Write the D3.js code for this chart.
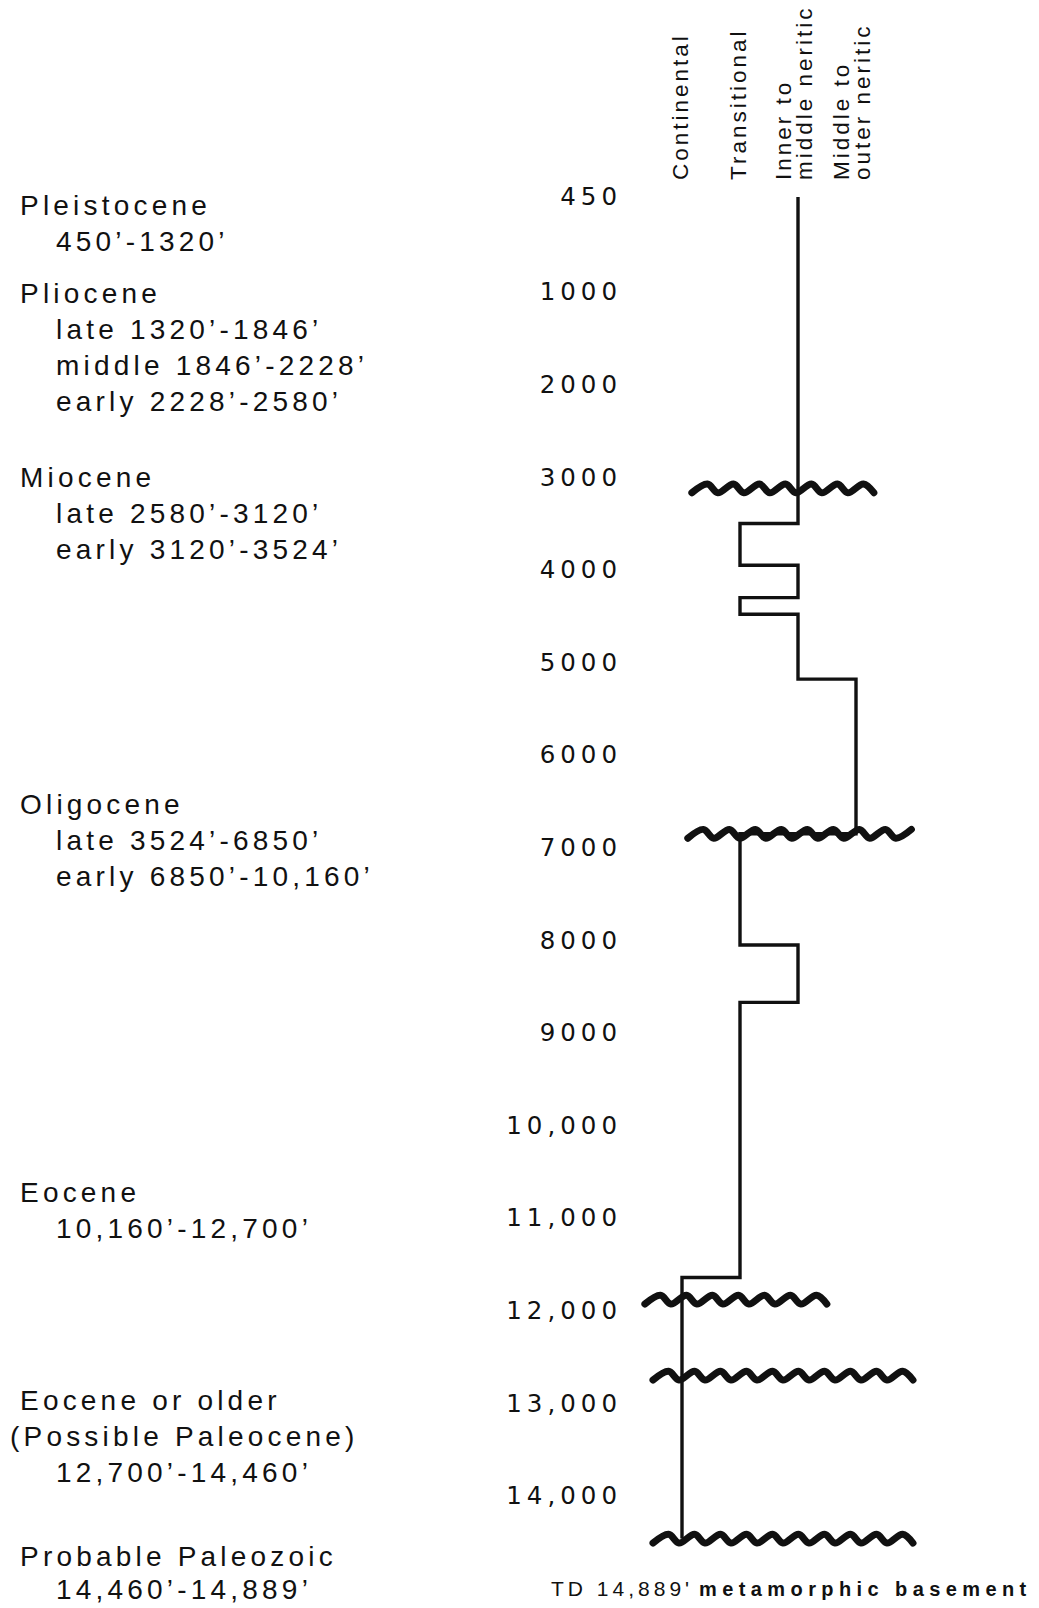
<!DOCTYPE html>
<html>
<head>
<meta charset="utf-8">
<script src="https://cdn.jsdelivr.net/npm/d3@7"></script>
<style>
  html, body { margin: 0; padding: 0; background: #fff; }
  svg { display: block; }
</style>
</head>
<body>
<svg id="chart" width="1039" height="1608"></svg>
<script>
// ---- Data -------------------------------------------------------------

// Depositional environments, shallow (left) to deep (right)
const environments = ["Continental", "Transitional", "Inner to middle neritic", "Middle to outer neritic"];
const environmentLabelLines = [
  ["Continental"],
  ["Transitional"],
  ["Inner to", "middle neritic"],
  ["Middle to", "outer neritic"]
];

// Depth axis (feet)
const depthTicks = [450, 1000, 2000, 3000, 4000, 5000, 6000, 7000, 8000, 9000, 10000, 11000, 12000, 13000, 14000];
const depthTickLabels = ["450", "1000", "2000", "3000", "4000", "5000", "6000", "7000", "8000", "9000",
  "10,000", "11,000", "12,000", "13,000", "14,000"];

// Environment interpreted for each depth interval (ft)
const intervalTops  = [450, 3500, 3950, 4300, 4480, 5180, 6850, 8050, 8670, 11640];
const intervalBases = [3500, 3950, 4300, 4480, 5180, 6850, 8050, 8670, 11640, 14460];
const intervalEnvironment = [
  "Inner to middle neritic", "Transitional", "Inner to middle neritic", "Transitional",
  "Inner to middle neritic", "Middle to outer neritic", "Transitional", "Inner to middle neritic",
  "Transitional", "Continental"
];

// Unconformities: depth (ft) and lateral span in environment-column units
const unconformityDepths = [3120, 6850, 11880, 12700, 14460];
const unconformitySpanFrom = [0.17, 0.10, -0.64, -0.50, -0.50];
const unconformitySpanTo   = [3.33, 3.98, 2.52, 4.05, 4.02];

// Stratigraphic ages with depth ranges
const epochNames = ["Pleistocene", "Pliocene", "Miocene", "Oligocene", "Eocene", "Eocene or older", "Probable Paleozoic"];
const epochDetails = [
  ["450’-1320’"],
  ["late 1320’-1846’", "middle 1846’-2228’", "early 2228’-2580’"],
  ["late 2580’-3120’", "early 3120’-3524’"],
  ["late 3524’-6850’", "early 6850’-10,160’"],
  ["10,160’-12,700’"],
  ["(Possible Paleocene)", "12,700’-14,460’"],
  ["14,460’-14,889’"]
];

const totalDepthLabel = "TD 14,889'";
const totalDepthNote = "metamorphic basement";

// ---- Layout -----------------------------------------------------------

const svg = d3.select("#chart");
const ink = "#111";

// Depth scale: the top (450 ft) sits slightly compressed above the regular 1000 ft grid
const y = d3.scaleLinear()
  .domain([450, 1000, 14000])
  .range([197, 292, 1496]);

// Environment columns
const x = d3.scalePoint()
  .domain(environments)
  .range([682, 856]);
const colUnit = d3.scaleLinear().domain([0, 3]).range([x(environments[0]), x(environments[3])]);

// ---- Depth tick labels --------------------------------------------------

const tickSpacing = 5;
const axis = d3.axisLeft(y)
  .tickValues(depthTicks)
  .tickFormat((d, i) => depthTickLabels[i])
  .tickSize(0)
  .tickPadding(0);

const axisG = svg.append("g")
  .attr("transform", `translate(${617 + tickSpacing},0)`)
  .call(axis);
axisG.select(".domain").remove();
axisG.selectAll("text")
  .attr("font-family", "DejaVu Sans, sans-serif")
  .attr("font-size", 24.5)
  .attr("letter-spacing", tickSpacing)
  .attr("fill", ink);

// ---- Environment column headers ----------------------------------------

const headerG = svg.append("g")
  .attr("font-family", "Liberation Sans, Arial, sans-serif")
  .attr("font-size", 22.5)
  .attr("letter-spacing", 3)
  .attr("fill", ink);

environments.forEach((env, i) => {
  const lines = environmentLabelLines[i];
  lines.forEach((line, j) => {
    // single-line headers are centred on their column, two-line headers straddle it
    const bx = lines.length === 1 ? x(env) + 6 : x(env) - 7 + j * 21;
    headerG.append("text")
      .attr("transform", `translate(${bx},180) rotate(-90)`)
      .text(line);
  });
});

// ---- Environment curve ----------------------------------------------------

const curvePoints = [];
intervalTops.forEach((top, i) => {
  const cx = x(intervalEnvironment[i]);
  curvePoints.push([cx, y(top)]);
  curvePoints.push([cx, y(intervalBases[i])]);
});

svg.append("path")
  .attr("d", d3.line()(curvePoints))
  .attr("fill", "none")
  .attr("stroke", ink)
  .attr("stroke-width", 3.4)
  .attr("stroke-linejoin", "miter");

// ---- Unconformities (wavy lines) -----------------------------------------

function wavePoints(x0, x1, yc) {
  const w = 26, a = 4.4;
  const pts = [];
  for (let px = x0; px <= x1 + 0.1; px += w) {
    pts.push([px, yc + a]);
    if (px + w * 0.6 <= x1) pts.push([px + w * 0.6, yc - a]);
  }
  return pts;
}

const waveLine = d3.line().curve(d3.curveCatmullRom.alpha(0.5));
unconformityDepths.forEach((d, i) => {
  svg.append("path")
    .attr("d", waveLine(wavePoints(colUnit(unconformitySpanFrom[i]), colUnit(unconformitySpanTo[i]), y(d))))
    .attr("fill", "none")
    .attr("stroke", ink)
    .attr("stroke-width", 7)
    .attr("stroke-linecap", "round")
    .attr("stroke-linejoin", "round");
});

// ---- Total depth note ---------------------------------------------------

const td = svg.append("text")
  .attr("x", 551)
  .attr("y", 1596)
  .attr("fill", ink)
  .attr("font-family", "Liberation Sans, Arial, sans-serif");
td.append("tspan")
  .attr("font-size", 21)
  .attr("letter-spacing", 4)
  .text(totalDepthLabel);
td.append("tspan")
  .attr("dx", 6)
  .attr("font-size", 20)
  .attr("font-weight", "bold")
  .attr("letter-spacing", 5.4)
  .text(totalDepthNote);

// ---- Stratigraphic ages --------------------------------------------------

const epochBaselines = [215, 303, 487, 814, 1202, 1410, 1566];
const lineGap = 36;

const epochG = svg.append("g")
  .attr("font-family", "Liberation Sans, Arial, sans-serif")
  .attr("font-size", 28)
  .attr("letter-spacing", 4.2)
  .attr("fill", ink);

epochNames.forEach((name, i) => {
  const b = epochBaselines[i];
  epochG.append("text").attr("x", 20).attr("y", b).text(name);
  epochDetails[i].forEach((line, j) => {
    epochG.append("text")
      .attr("x", line.startsWith("(") ? 10 : 56)
      .attr("y", b + (j + 1) * lineGap - (i === 6 ? 3 : 0))
      .text(line);
  });
});
</script>
</body>
</html>
